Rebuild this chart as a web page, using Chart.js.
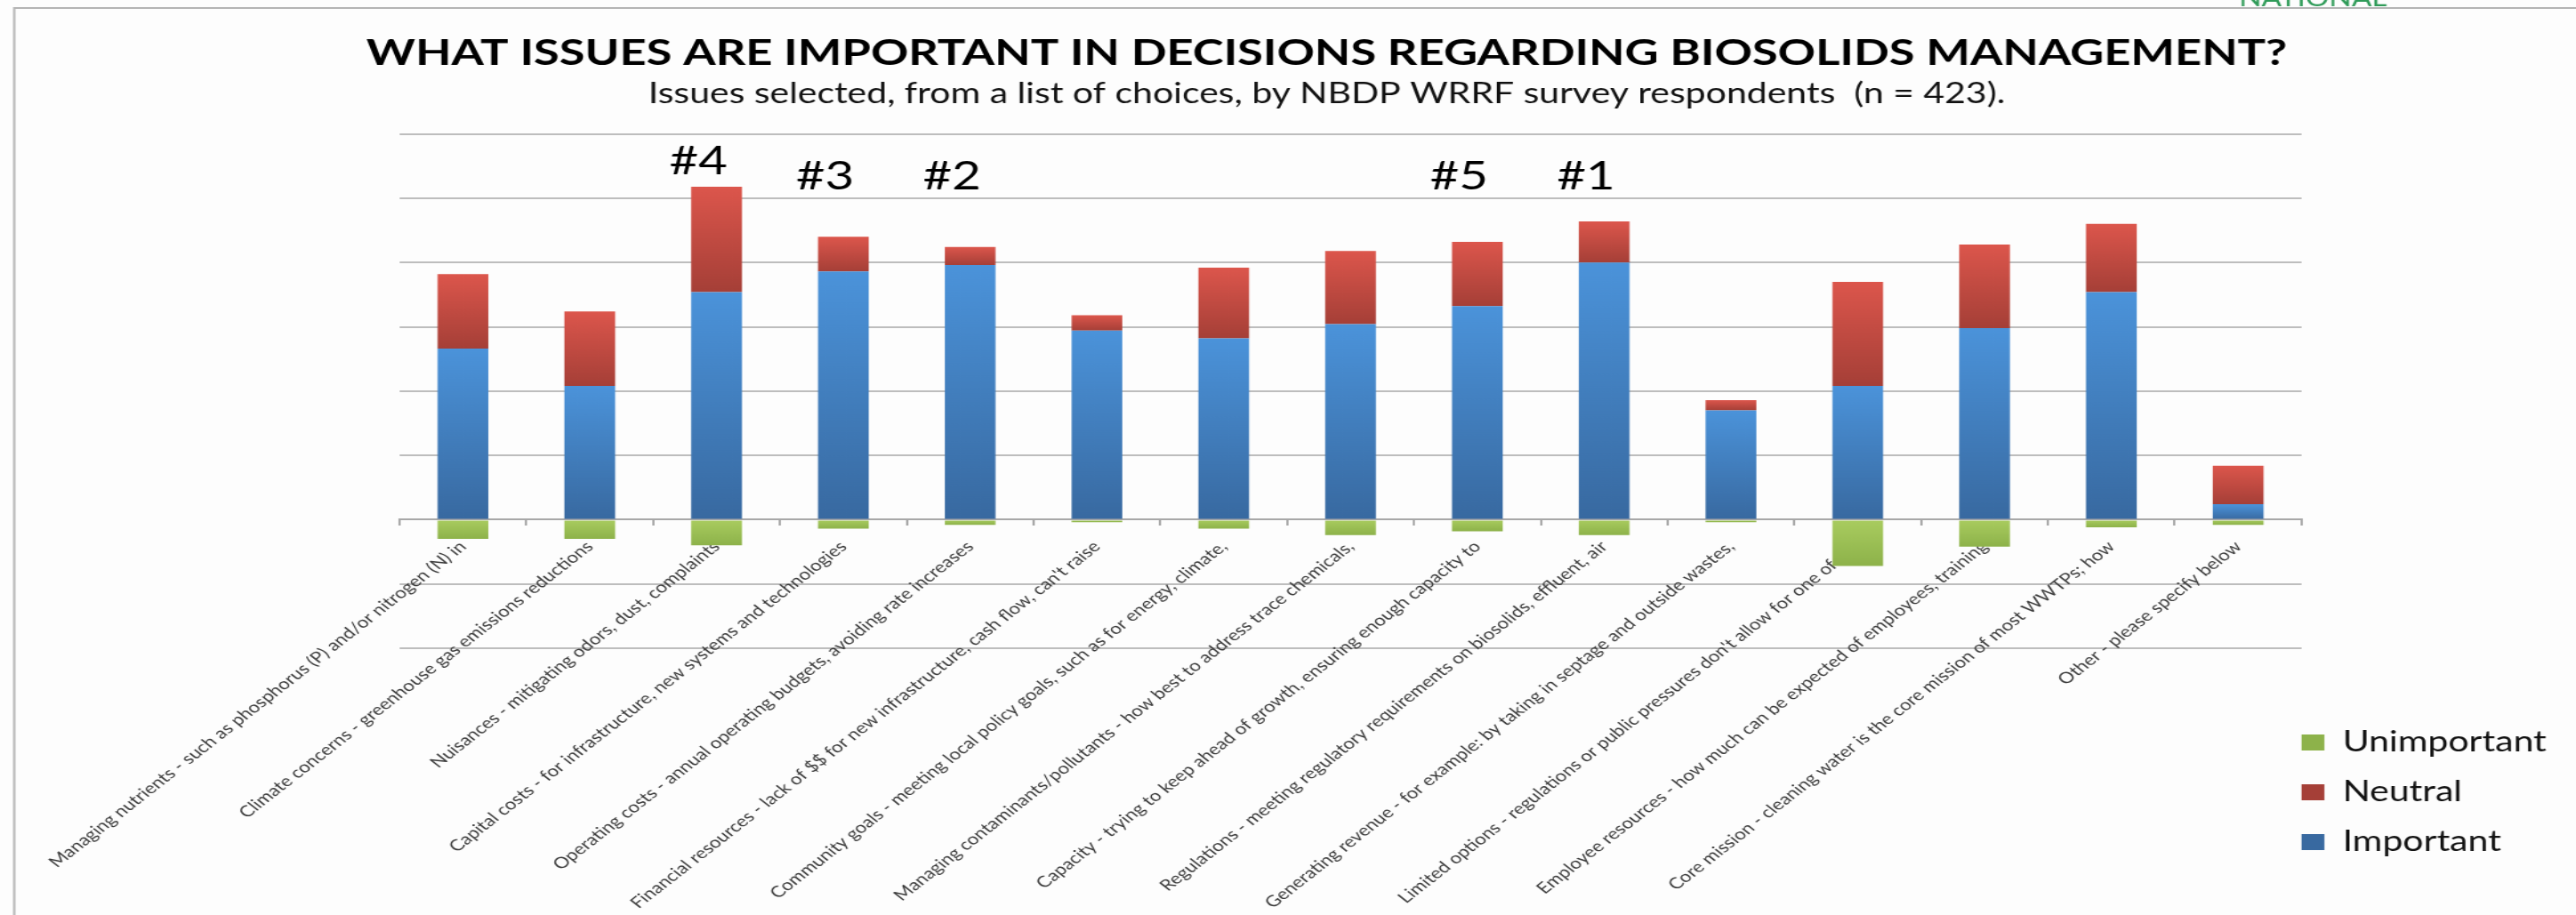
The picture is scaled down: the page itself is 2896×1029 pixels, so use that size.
<!DOCTYPE html>
<html lang="en">
<head>
<meta charset="UTF-8">
<title>Biosolids management issues</title>
<script src="https://cdn.jsdelivr.net/npm/chart.js"></script>
<style>
    html, body {
        margin: 0;
        padding: 0;
        background: #ffffff;
        overflow: hidden;
    }

    #issuesChart {
        display: block;
    }
</style>
</head>
<body>
<!-- the slide in the source is stretched sideways, so draw narrow and stretch with css -->
<canvas id="issuesChart" width="2263" height="1029" style="width:2896px;height:1029px"></canvas>

<script>
    const categories = [
        'Managing nutrients - such as phosphorus (P) and/or nitrogen (N) in',
        'Climate concerns - greenhouse gas emissions reductions',
        'Nuisances - mitigating odors, dust, complaints',
        'Capital costs - for infrastructure, new systems and technologies',
        'Operating costs - annual operating budgets, avoiding rate increases',
        "Financial resources - lack of $$ for new infrastructure, cash flow, can't raise",
        'Community goals - meeting local policy goals, such as for energy, climate,',
        'Managing contaminants/pollutants - how best to address trace chemicals,',
        'Capacity - trying to keep ahead of growth, ensuring enough capacity to',
        'Regulations - meeting regulatory requirements on biosolids, effluent, air',
        'Generating revenue - for example: by taking in septage and outside wastes,',
        "Limited options - regulations or public pressures don't allow for one of the",
        'Employee resources - how much can be expected of employees, training',
        'Core mission - cleaning water is the core mission of most WWTPs; how',
        'Other - please specify below'
    ];
    const important   = [133, 104, 177, 193, 198, 147, 141, 152, 166, 200, 85, 104, 149, 177, 12];
    const neutral     = [58, 58, 82, 27, 14, 12, 55, 57, 50, 32, 8, 81, 65, 53, 30];
    const unimportant = [-15, -15, -20, -7, -4, -2, -7, -12, -9, -12, -2, -36, -21, -6, -4];
    const ranks = ['', '', '#4', '#3', '#2', '', '', '', '#5', '#1', '', '', '', '', ''];

    // vertical gradient per segment, light at the top, dark at the bottom
    function shade(light, dark, flat, low, high) {
        return function (c) {
            if (c.type !== 'data') return flat;
            const y = c.chart.scales.y;
            const top = y.getPixelForValue(high(c.dataIndex));
            const bottom = y.getPixelForValue(low(c.dataIndex));
            if (!isFinite(top) || !isFinite(bottom) || top === bottom) return flat;
            const g = c.chart.ctx.createLinearGradient(0, top, 0, bottom);
            g.addColorStop(0, light);
            g.addColorStop(1, dark);
            return g;
        };
    }

    const framePlugin = {
        id: 'frame',
        beforeDraw(chart) {
            const ctx = chart.ctx;
            ctx.save();
            ctx.fillStyle = '#fdfdfd';
            ctx.fillRect(0, 0, chart.width, chart.height);
            // bottom of the logo that sits above the slide edge
            ctx.fillStyle = '#2f9b58';
            ctx.font = '26px Lato';
            ctx.textAlign = 'left';
            ctx.textBaseline = 'alphabetic';
            ctx.fillText('NATIONAL', 1967, 7);
            ctx.strokeStyle = '#b4b4b4';
            ctx.lineWidth = 2;
            ctx.beginPath();
            ctx.moveTo(12.5, chart.height);
            ctx.lineTo(12.5, 9);
            ctx.lineTo(chart.width, 9);
            ctx.stroke();
            ctx.restore();
        }
    };

    // pull the legend keys back against the plot edge, like in the slide
    const legendShift = {
        id: 'legendShift',
        afterLayout(chart) {
            chart.legend.left -= 24;
            chart.legend.right -= 24;
        }
    };

    const rankPlugin = {
        id: 'ranks',
        afterDatasetsDraw(chart) {
            const { ctx, chartArea } = chart;
            const x = chart.scales.x;
            const y = chart.scales.y;
            ctx.save();
            ctx.font = '44px Lato';
            ctx.fillStyle = '#000000';
            ctx.textAlign = 'center';
            ctx.textBaseline = 'alphabetic';
            ranks.forEach((r, i) => {
                if (!r) return;
                const barTop = y.getPixelForValue(important[i] + neutral[i]);
                const base = Math.min(chartArea.top + 62, barTop - 14);
                ctx.fillText(r, x.getPixelForValue(i) - 16, base);
            });
            ctx.restore();
        }
    };

    new Chart(document.getElementById('issuesChart'), {
        type: 'bar',
        data: {
            labels: categories,
            datasets: [
                {
                    label: 'Important',
                    data: important,
                    backgroundColor: shade('#4b93da', '#3869a0', '#3f7fc4',
                        i => 0, i => important[i])
                },
                {
                    label: 'Neutral',
                    data: neutral,
                    backgroundColor: shade('#dc564c', '#a53f37', '#cc4a42',
                        i => important[i], i => important[i] + neutral[i])
                },
                {
                    label: 'Unimportant',
                    data: unimportant,
                    backgroundColor: shade('#a9cc5f', '#8db24a', '#95bd52',
                        i => unimportant[i], i => 0)
                }
            ]
        },
        options: {
            responsive: false,
            animation: false,
            devicePixelRatio: 1,
            layout: {
                padding: { top: 14, left: 60, right: -8, bottom: 42 }
            },
            datasets: {
                bar: { categoryPercentage: 1, barPercentage: 0.4 }
            },
            scales: {
                x: {
                    stacked: true,
                    position: { y: 0 },
                    offset: true,
                    z: 1,
                    grid: {
                        display: true,
                        offset: true,
                        drawOnChartArea: false,
                        drawTicks: true,
                        tickLength: 6,
                        color: '#a8a8a8',
                        lineWidth: 2
                    },
                    border: { display: true, color: '#a8a8a8', width: 2 },
                    ticks: {
                        autoSkip: false,
                        minRotation: 45,
                        maxRotation: 45,
                        padding: 14,
                        color: '#3a3a3a',
                        font: { family: 'Lato', size: 17.5 }
                    }
                },
                // empty axis that only keeps room under the plot for the slanted labels
                xRoom: {
                    type: 'category',
                    position: 'bottom',
                    grid: { display: false },
                    border: { display: false },
                    ticks: { display: false },
                    afterFit: (scale) => { scale.height = 258; }
                },
                y: {
                    stacked: true,
                    min: -100,
                    max: 300,
                    ticks: { display: false, stepSize: 50 },
                    grid: { color: '#bdbdbd', lineWidth: 2, drawTicks: false },
                    border: { display: false },
                    afterFit: (scale) => { scale.width = 291; }
                }
            },
            plugins: {
                title: {
                    display: true,
                    text: 'WHAT ISSUES ARE IMPORTANT IN DECISIONS REGARDING BIOSOLIDS MANAGEMENT?',
                    color: '#000000',
                    font: { family: 'Lato', size: 41, weight: 'bold' },
                    padding: { top: 21, bottom: 0 }
                },
                subtitle: {
                    display: true,
                    text: 'Issues selected, from a list of choices, by NBDP WRRF survey respondents  (n = 423).',
                    color: '#111111',
                    font: { family: 'Lato', size: 32 },
                    padding: { top: 2, bottom: 26 }
                },
                legend: {
                    position: 'right',
                    align: 'end',
                    reverse: true,
                    labels: {
                        boxWidth: 20,
                        boxHeight: 18,
                        padding: 24,
                        color: '#111111',
                        font: { family: 'Lato', size: 32 }
                    }
                },
                tooltip: { enabled: false }
            }
        },
        plugins: [framePlugin, legendShift, rankPlugin]
    });
</script>
</body>
</html>
